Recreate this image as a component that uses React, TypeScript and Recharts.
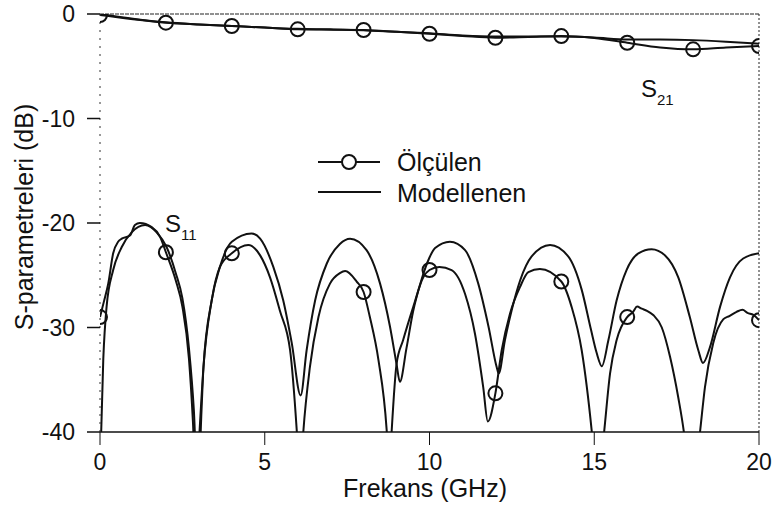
import React from 'react';
import { ComposedChart, Line, Scatter, XAxis, YAxis, ReferenceLine } from 'recharts';

// S11 modellenen (GHz, dB)
const s11ModelFreq = [
  0, 0.1, 0.2, 0.4, 0.66, 0.96, 1.37, 1.72, 2.02, 2.3, 2.5, 2.7, 2.85, 2.97,
  3.08, 3.14, 3.39, 3.64, 4.0, 4.6, 4.86, 5.26, 5.56, 5.82, 6.09,
  6.27, 6.53, 6.88, 7.28, 7.59, 8.09, 8.5, 8.8, 9.0, 9.1,
  9.3, 9.5, 9.75, 10.0, 10.17, 10.62, 11.08, 11.48, 11.79, 12.04, 12.1,
  12.29, 12.49, 12.75, 13.1, 13.66, 14.21, 14.62, 14.9, 15.07, 15.23,
  15.43, 15.68, 15.98, 16.34, 16.74, 17.15, 17.55, 17.9, 18.16, 18.3,
  18.51, 18.82, 19.12, 19.52, 20,
];
const s11ModelDb = [
  -44, -33, -28, -24.5, -22.3, -20.9, -20.2, -20.9, -22.3, -24.8, -27.2, -32, -38, -46,
  -38, -33.8, -27.4, -24.2, -21.8, -21.0, -21.5, -24.2, -27.4, -31.5, -36.5,
  -32.2, -27.4, -23.9, -22.0, -21.5, -22.6, -25.8, -29.9, -33.5, -35.2,
  -32.0, -28.5, -25.5, -23.3, -22.4, -21.8, -22.6, -25.8, -29.9, -33.8, -34.4,
  -31.2, -28.4, -25.5, -23.2, -22.1, -23.2, -26.4, -30.2, -32.4, -33.7,
  -31.2, -27.4, -24.5, -22.9, -22.5, -23.1, -25.2, -29, -32.2, -33.4,
  -31.9, -28, -25.2, -23.4, -22.9,
];

// S11 ölçülen
const s11MeasFreq = [
  0, 0.12, 0.25, 0.4, 0.55, 0.66, 0.91, 1.06, 1.21, 1.57, 1.82, 2.0, 2.3, 2.5, 2.7, 2.82, 2.92,
  3.02, 3.14, 3.39, 3.64, 4.0, 4.5, 4.86, 5.16, 5.46, 5.77, 5.97, 6.07,
  6.17, 6.37, 6.63, 6.98, 7.28, 7.44, 7.79, 8.0, 8.19, 8.45, 8.7, 8.78,
  8.85, 9.0, 9.2, 9.51, 9.81, 10.0, 10.3, 10.67, 11.08, 11.38, 11.63, 11.77,
  12.0, 12.19, 12.44, 12.75, 13.0, 13.35, 14.0, 14.31, 14.62, 14.92, 15.1,
  15.3, 15.48, 15.68, 16.0, 16.18, 16.3, 16.44, 16.6, 16.79, 17.05, 17.3, 17.55, 17.72, 17.95,
  18.21, 18.36, 18.61, 18.92, 19.1, 19.32, 19.5, 19.65, 19.83, 20,
];
const s11MeasDb = [
  -29, -27.5, -25.8, -22.9, -21.8, -21.5, -21.2, -20.2, -20.0, -20.4, -21.3, -22.8, -25.5, -28, -33, -39, -46,
  -40, -33.8, -27.4, -24.2, -22.9, -22.1, -23.1, -25.2, -28.4, -32.2, -39.8, -45,
  -40, -33.8, -29, -25.8, -24.8, -24.6, -25.6, -26.6, -29, -33.1, -39.8, -44,
  -40, -33.5, -31.2, -28, -25.2, -24.5, -24.2, -24.5, -26.8, -30.6, -35.7, -39,
  -36.3, -32.2, -28.7, -26.1, -24.7, -24.4, -25.6, -28, -32.2, -39.8, -46,
  -40, -34.4, -31.2, -29, -28.5, -28.0, -28.2, -28.4, -28.8, -30, -32.8, -36.7, -40, -47,
  -40, -35.7, -31.5, -29.2, -28.9, -28.5, -28.3, -28.6, -28.8, -29.3,
];
// S11 ölçüm işaretleri (her 2 GHz)
const s11MarkFreq = [0, 2, 4, 8, 10, 12, 14, 16, 20];
const s11MarkDb = [-29, -22.8, -22.9, -26.6, -24.5, -36.3, -25.6, -29, -29.3];

// S21 modellenen ve ölçülen
const s21Freq = [0, 1, 2, 3, 4, 5, 6, 7, 8, 9, 10, 11, 12, 13, 14, 15, 16, 17, 18, 19, 20];
const s21ModelDb = [
  0, -0.45, -0.8, -1.0, -1.15, -1.3, -1.42, -1.47, -1.55, -1.7, -1.85,
  -2.05, -2.15, -2.15, -2.15, -2.25, -2.45, -2.45, -2.5, -2.65, -2.85,
];
const s21MeasDb = [
  -0.1, -0.5, -0.83, -1.0, -1.15, -1.3, -1.47, -1.5, -1.53, -1.7, -1.89,
  -2.1, -2.27, -2.2, -2.11, -2.3, -2.75, -3.2, -3.38, -3.2, -3.07,
];
const s21MarkFreq = [0, 2, 4, 6, 8, 10, 12, 14, 16, 18, 20];
const s21MarkDb = [-0.1, -0.83, -1.15, -1.47, -1.53, -1.89, -2.27, -2.11, -2.75, -3.38, -3.07];

const xTicks = [0, 5, 10, 15, 20];
const yTicks = [-40, -30, -20, -10, 0];

const toPoints = (xs: number[], ys: number[]) => xs.map((x, i) => ({ x, y: ys[i] }));

const FONT = '"Liberation Sans", Arial, Helvetica, sans-serif';
const INK = '#111';
const LW = 2;

const OpenCircle = (props: any) => {
  const { cx, cy } = props;
  if (cx == null || cy == null) return null;
  return <circle cx={cx} cy={cy} r={7} fill="none" stroke={INK} strokeWidth={LW} />;
};

const text = (extra: React.CSSProperties): React.CSSProperties => ({
  position: 'absolute',
  fontFamily: FONT,
  color: INK,
  lineHeight: 1,
  whiteSpace: 'nowrap',
  ...extra,
});

export default function App() {
  const tickStyle = { fontSize: 23, fill: INK, fontFamily: FONT };
  return (
    <div style={{ position: 'relative', width: 774, height: 507, background: '#fff' }}>
      <style>{'body{margin:0}'}</style>
      <ComposedChart
        width={774}
        height={507}
        margin={{ top: 14, right: 15, bottom: 30, left: 30 }}
        style={{ fontFamily: FONT }}
      >
        <XAxis
          type="number"
          dataKey="x"
          domain={[0, 20]}
          ticks={xTicks}
          allowDataOverflow
          height={45}
          tickSize={13}
          tickMargin={9}
          tick={tickStyle}
          axisLine={{ stroke: INK, strokeWidth: 1.5 }}
          tickLine={{ stroke: INK, strokeWidth: 1 }}
        />
        <YAxis
          type="number"
          dataKey="y"
          domain={[-40, 0]}
          ticks={yTicks}
          allowDataOverflow
          width={70}
          tickSize={13}
          tickMargin={12}
          tick={tickStyle}
          axisLine={{ stroke: '#333', strokeWidth: 1, strokeDasharray: '2 6' }}
          tickLine={{ stroke: INK, strokeWidth: 1.5 }}
        />
        <ReferenceLine y={0} stroke="#222" strokeWidth={1} strokeDasharray="4 1" />
        <ReferenceLine x={20} stroke="#222" strokeWidth={1} strokeDasharray="2 2" />

        <Line data={toPoints(s21Freq, s21ModelDb)} dataKey="y" type="monotone" stroke={INK}
          strokeWidth={LW} dot={false} isAnimationActive={false} />
        <Line data={toPoints(s21Freq, s21MeasDb)} dataKey="y" type="monotone" stroke={INK}
          strokeWidth={LW} dot={false} isAnimationActive={false} />
        <Scatter data={toPoints(s21MarkFreq, s21MarkDb)} dataKey="y" shape={OpenCircle}
          isAnimationActive={false} />

        <Line data={toPoints(s11ModelFreq, s11ModelDb)} dataKey="y" type="monotone" stroke={INK}
          strokeWidth={LW} dot={false} isAnimationActive={false} />
        <Line data={toPoints(s11MeasFreq, s11MeasDb)} dataKey="y" type="monotone" stroke={INK}
          strokeWidth={LW} dot={false} isAnimationActive={false} />
        <Scatter data={toPoints(s11MarkFreq, s11MarkDb)} dataKey="y" shape={OpenCircle}
          isAnimationActive={false} />
      </ComposedChart>

      {/* eksen başlıkları */}
      <div style={text({ left: 24, top: 217, fontSize: 25, transform: 'translate(-50%, -50%) rotate(-90deg)' })}>
        S-parametreleri (dB)
      </div>
      <div style={text({ left: 425, top: 476, fontSize: 25, transform: 'translateX(-50%)' })}>
        Frekans (GHz)
      </div>

      {/* eğri etiketleri */}
      <div style={text({ left: 165, top: 212, fontSize: 24 })}>
        S<span style={{ fontSize: 15, position: 'relative', top: 8 }}>11</span>
      </div>
      <div style={text({ left: 641, top: 77, fontSize: 24 })}>
        S<span style={{ fontSize: 15, position: 'relative', top: 8 }}>21</span>
      </div>

      {/* lejant */}
      <svg width={70} height={50} style={{ position: 'absolute', left: 316, top: 147 }}>
        <line x1={2} y1={15} x2={64} y2={15} stroke={INK} strokeWidth={LW} />
        <circle cx={33} cy={15} r={7} fill="#fff" stroke={INK} strokeWidth={LW} />
        <line x1={2} y1={45} x2={65} y2={45} stroke={INK} strokeWidth={LW} />
      </svg>
      <div style={text({ left: 397, top: 150, fontSize: 25 })}>Ölçülen</div>
      <div style={text({ left: 397, top: 181, fontSize: 25 })}>Modellenen</div>
    </div>
  );
}
